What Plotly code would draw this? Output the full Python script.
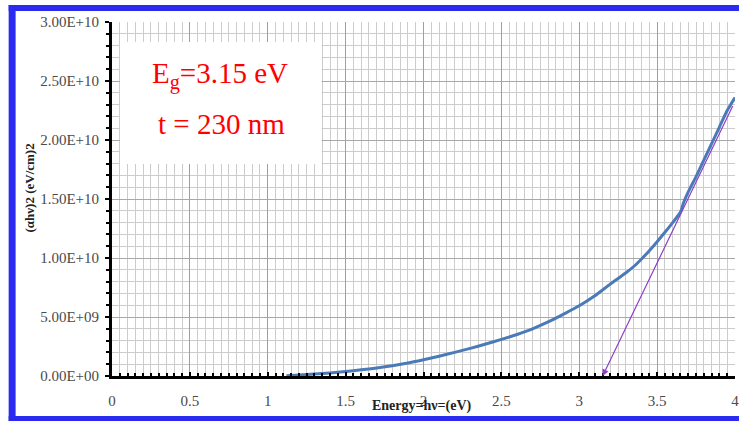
import plotly.graph_objects as go

# Tauc plot data: photon energy (eV) vs (alpha*h*nu)^2 ((eV/cm)^2)
energy = [1.12, 1.2, 1.3, 1.4, 1.5, 1.6, 1.7, 1.8, 1.9, 2.0, 2.1, 2.2, 2.3, 2.4,
          2.5, 2.6, 2.7, 2.8, 2.9, 3.0, 3.1, 3.2, 3.3, 3.35, 3.4, 3.45, 3.5,
          3.55, 3.6, 3.65, 3.67, 3.7, 3.75, 3.8, 3.85, 3.9, 3.95, 4.0]
alpha_hv_sq = [0.02e9, 0.08e9, 0.16e9, 0.26e9, 0.38e9, 0.52e9, 0.68e9, 0.87e9,
               1.1e9, 1.38e9, 1.68e9, 2.0e9, 2.34e9, 2.71e9, 3.1e9, 3.52e9, 4.0e9,
               4.58e9, 5.25e9, 5.95e9, 6.8e9, 7.8e9, 8.75e9, 9.28e9, 9.92e9,
               10.62e9, 11.38e9, 12.18e9, 13.0e9, 13.9e9, 14.7e9, 15.6e9, 16.9e9,
               18.3e9, 19.7e9, 21.1e9, 22.5e9, 23.6e9]

# Linear extrapolation of the absorption edge to the energy axis
band_gap = 3.15
fit_end_energy = 3.99
fit_end_value = 2.30e10

x_tick_vals = [0, 0.5, 1, 1.5, 2, 2.5, 3, 3.5, 4]
x_tick_text = ["0", "0.5", "1", "1.5", "2", "2.5", "3", "3.5", "4"]
y_tick_vals = [0, 5e9, 1e10, 1.5e10, 2e10, 2.5e10, 3e10]
y_tick_text = ["0.00E+00", "5.00E+09", "1.00E+10", "1.50E+10",
               "2.00E+10", "2.50E+10", "3.00E+10"]

W, H = 743, 421
ML, MR, MT, MB = 112, 4, 22, 45
PW, PH = W - ML - MR, H - MT - MB


def px_x(px):
    return (px - ML) / PW


def px_y(py):
    return (H - MB - py) / PH


SERIF = "Liberation Serif"
BORDER = "#2b2bf0"

fig = go.Figure()
fig.add_trace(go.Scatter(
    x=energy, y=alpha_hv_sq, mode="lines",
    line=dict(color="#4a7ab8", width=3, shape="spline", smoothing=0.6),
    showlegend=False,
))

shapes = [
    # white label panel
    dict(type="rect", xref="paper", yref="paper",
         x0=px_x(120), x1=px_x(323), y0=px_y(164), y1=px_y(42),
         fillcolor="white", line=dict(width=0), layer="above"),
    # blue frame around the figure
    dict(type="rect", xref="paper", yref="paper",
         x0=px_x(8), x1=px_x(15), y0=px_y(421), y1=px_y(5),
         fillcolor=BORDER, line=dict(width=0)),
    dict(type="rect", xref="paper", yref="paper",
         x0=px_x(8), x1=px_x(743), y0=px_y(11), y1=px_y(5),
         fillcolor=BORDER, line=dict(width=0)),
    dict(type="rect", xref="paper", yref="paper",
         x0=px_x(8), x1=px_x(743), y0=px_y(421), y1=px_y(416),
         fillcolor=BORDER, line=dict(width=0)),
]


def label(px, py, text, size, angle=0, bold=False, color="#222222"):
    return dict(x=px_x(px), y=px_y(py), xref="paper", yref="paper",
                xanchor="center", yanchor="middle", textangle=angle,
                text=f"<b>{text}</b>" if bold else text, showarrow=False,
                font=dict(family=SERIF, size=size, color=color))


annotations = [
    dict(x=band_gap, y=0, ax=fit_end_energy, ay=fit_end_value,
         xref="x", yref="y", axref="x", ayref="y", text="",
         showarrow=True, arrowhead=2, arrowsize=1.1, arrowwidth=1.2,
         arrowcolor="#8e3fc8"),
    label(221, 75, "E<sub>g</sub>=3.15 eV", 29, color="#ff0000"),
    label(222, 124, "t = 230 nm", 29, color="#ff0000"),
    label(424, 406, "Energy=hν=(eV)", 14, bold=True),
    label(28, 188, "(αhν)2 (eV/cm)2", 13, angle=-90, bold=True),
]

fig.update_layout(
    width=W, height=H,
    margin=dict(l=ML, r=MR, t=MT, b=MB),
    paper_bgcolor="white", plot_bgcolor="white",
    shapes=shapes, annotations=annotations,
    xaxis=dict(
        range=[0, 4], tickmode="array", tickvals=x_tick_vals, ticktext=x_tick_text,
        showgrid=True, gridcolor="#7fa6cc", gridwidth=1,
        showline=True, linecolor="black", linewidth=3,
        ticks="inside", ticklen=4, tickwidth=2, tickcolor="black",
        ticklabelstandoff=9, ticklabeloverflow="allow", zeroline=False,
        tickfont=dict(family=SERIF, size=15, color="#4a4a4a"),
        minor=dict(tickmode="linear", tick0=0, dtick=0.05, ticks="inside",
                   ticklen=3, tickwidth=2, tickcolor="black",
                   showgrid=True, gridcolor="#cccccc", gridwidth=1),
    ),
    yaxis=dict(
        range=[0, 3e10], tickmode="array", tickvals=y_tick_vals, ticktext=y_tick_text,
        showgrid=True, gridcolor="#a8a8a8", gridwidth=1,
        showline=True, linecolor="black", linewidth=3,
        ticks="outside", ticklen=4, tickwidth=2, tickcolor="black",
        ticklabelstandoff=3, ticklabeloverflow="allow", zeroline=False,
        tickfont=dict(family=SERIF, size=15, color="#4a4a4a"),
        minor=dict(tickmode="linear", tick0=0, dtick=1e9, ticks="outside",
                   ticklen=3, tickwidth=2, tickcolor="black",
                   showgrid=True, gridcolor="#cccccc", gridwidth=1),
    ),
)

fig.write_html("out.html")
